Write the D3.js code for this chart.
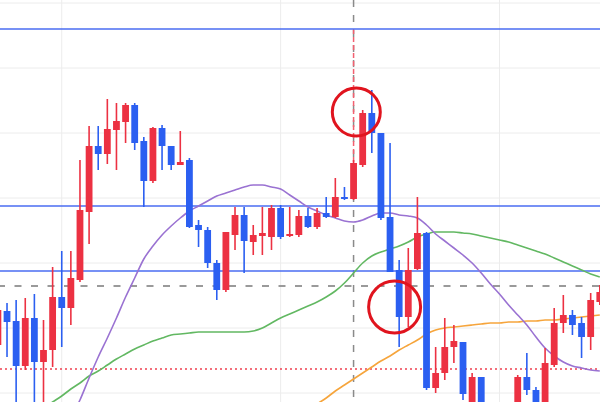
<!DOCTYPE html>
<html><head><meta charset="utf-8">
<script src="https://cdn.jsdelivr.net/npm/d3@7"></script>
<style>html,body{margin:0;padding:0;background:#fff;overflow:hidden}</style>
</head><body><svg id="c" width="600" height="402"></svg>
<script>
// candle index = category
const opens  = [150.55,150.89,150.79,150.34,150.82,150.38,150.50,151.03,150.92,151.20,151.88,152.54,152.46,152.70,152.78,152.95,152.59,152.19,152.72,152.54,152.35,152.40,151.75,151.70,151.37,151.10,151.65,151.85,151.58,151.64,151.63,151.92,151.64,151.65,151.84,151.73,151.87,151.83,152.03,152.01,152.35,152.87,152.67,151.83,151.30,150.83,151.31,151.67,150.12,150.27,150.53,150.58,149.94,150.23,149.92,149.80,149.70,149.90,150.23,150.10,149.90,150.35,150.77,150.85,150.77,150.63,150.98];
const closes = [150.90,150.78,150.34,150.82,150.38,150.50,151.03,150.92,151.22,151.90,152.54,152.46,152.71,152.79,152.95,152.57,152.19,152.72,152.54,152.35,152.38,151.73,151.70,151.37,151.10,151.68,151.85,151.59,151.65,151.67,151.92,151.63,151.66,151.84,151.73,151.87,151.83,152.03,152.01,152.37,152.87,152.67,151.82,151.28,150.83,151.30,151.67,150.12,150.27,150.53,150.59,150.06,150.23,149.95,149.80,149.70,149.88,150.23,150.10,149.98,150.37,150.77,150.85,150.75,150.63,151.00,151.08];
const highs  = [150.95,150.97,151.00,151.02,151.06,150.80,151.33,151.49,151.49,152.40,152.74,152.74,153.01,152.97,152.97,152.97,152.63,152.73,152.75,152.54,152.69,152.42,151.80,151.73,151.40,151.68,151.93,151.93,151.75,151.93,151.95,151.95,151.93,151.90,151.92,151.92,152.03,152.22,152.13,152.40,152.90,153.10,152.67,152.57,151.40,151.52,152.03,151.68,150.53,150.82,150.75,150.58,150.27,150.23,149.95,149.90,149.92,150.25,150.47,150.13,150.52,150.92,151.05,150.90,150.83,151.07,151.15];
const lows   = [150.40,150.43,149.95,150.30,149.95,149.95,150.33,150.53,150.75,151.18,151.56,152.30,152.36,152.30,152.57,152.50,151.93,152.17,152.30,152.30,152.35,151.72,151.53,151.32,151.00,151.08,151.50,151.27,151.45,151.45,151.50,151.61,151.63,151.63,151.72,151.71,151.82,151.82,152.00,152.00,152.33,152.47,151.80,151.28,150.53,150.73,151.30,150.10,150.07,150.20,150.37,150.00,149.95,149.92,149.70,149.60,149.65,149.85,150.05,149.90,149.88,150.33,150.67,150.65,150.42,150.50,150.95];

const N = null;
const maPurple = [N,N,N,N,N,N,N,149.60,149.82,150.00,150.22,150.43,150.62,150.82,151.03,151.22,151.41,151.54,151.65,151.74,151.82,151.89,151.94,151.99,152.04,152.07,152.10,152.13,152.15,152.15,152.13,152.11,152.05,151.99,151.93,151.89,151.85,151.82,151.79,151.78,151.80,151.84,151.87,151.87,151.85,151.84,151.82,151.75,151.66,151.59,151.52,151.45,151.37,151.27,151.16,151.06,150.95,150.85,150.75,150.63,150.52,150.44,150.38,150.34,150.32,150.30,150.29];
const maGreen  = [N,N,N,N,N,149.92,149.98,150.04,150.11,150.17,150.24,150.29,150.35,150.41,150.46,150.51,150.55,150.59,150.62,150.65,150.66,150.67,150.68,150.68,150.68,150.68,150.68,150.68,150.69,150.72,150.77,150.82,150.86,150.90,150.94,150.98,151.03,151.09,151.17,151.27,151.37,151.44,151.48,151.51,151.54,151.58,151.63,151.66,151.68,151.68,151.68,151.67,151.66,151.64,151.62,151.60,151.58,151.55,151.52,151.49,151.46,151.42,151.38,151.34,151.30,151.26,151.23];
const maOrange = [N,N,N,N,N,N,N,N,N,N,N,N,N,N,N,N,N,N,N,N,N,N,N,N,N,N,N,N,N,N,N,N,N,149.82,149.90,149.96,150.02,150.09,150.15,150.21,150.27,150.33,150.39,150.44,150.50,150.55,150.60,150.66,150.70,150.72,150.73,150.74,150.75,150.76,150.77,150.77,150.78,150.78,150.79,150.79,150.80,150.80,150.81,150.82,150.83,150.84,150.85];

const blueLevels = [153.71, 151.94, 151.29];
const grayDashLevel = [151.14];
const redDotLevel = [150.31];
const gridPrices = [153.97, 153.32, 152.67, 152.02, 151.37, 150.72, 150.07];
const gridIdx = [7, 31, 55];
const markerIdx = [39];
const circles = [{i: 39.3, p: 152.88, r: 24}, {i: 43.5, p: 150.93, r: 26}];

const W = 600, H = 402;
const svg = d3.select('#c');
const x = d3.scaleLinear().domain([0, 66]).range([-2.1, 599.8]);
const y = d3.scaleLinear().domain([149.98, 154.0]).range([H, 0]);
const idx = d3.range(opens.length);
const UP = '#ec3142', DN = '#2b5ff1';

// grid
svg.append('g').selectAll('line').data(gridPrices).join('line')
  .attr('x1', 0).attr('x2', W).attr('y1', d => y(d)).attr('y2', d => y(d))
  .attr('stroke', '#ececec').attr('stroke-width', 1);
svg.append('g').selectAll('line').data(gridIdx).join('line')
  .attr('x1', d => x(d)).attr('x2', d => x(d)).attr('y1', 0).attr('y2', H)
  .attr('stroke', '#ececec').attr('stroke-width', 1);

// levels
svg.append('g').selectAll('line').data(grayDashLevel).join('line')
  .attr('x1', 0).attr('x2', W).attr('y1', d => y(d)).attr('y2', d => y(d))
  .attr('stroke', '#9a9a9a').attr('stroke-width', 2).attr('stroke-dasharray', '7,9.5').attr('stroke-dashoffset', 2);
svg.append('g').selectAll('line').data(redDotLevel).join('line')
  .attr('x1', 0).attr('x2', W).attr('y1', d => y(d)).attr('y2', d => y(d))
  .attr('stroke', '#ee4050').attr('stroke-width', 1.5).attr('stroke-dasharray', '2,3');
svg.append('g').selectAll('line').data(markerIdx).join('line')
  .attr('x1', d => x(d)).attr('x2', d => x(d)).attr('y1', 0).attr('y2', H)
  .attr('stroke', '#8a8a8a').attr('stroke-width', 1.5).attr('stroke-dasharray', '7,8');
svg.append('g').selectAll('line').data(markerIdx).join('line')
  .attr('x1', d => x(d)).attr('x2', d => x(d)).attr('y1', y(blueLevels[0])).attr('y2', d => y(closes[d]))
  .attr('stroke', '#f26070').attr('stroke-width', 1.5).attr('stroke-dasharray', '5,3');
svg.append('g').selectAll('line').data(blueLevels).join('line')
  .attr('x1', 0).attr('x2', W).attr('y1', d => y(d)).attr('y2', d => y(d))
  .attr('stroke', '#4a6cf2').attr('stroke-width', 1.5);

// moving averages
const mk = arr => d3.line().defined(d => arr[d] != null).x(d => x(d)).y(d => y(arr[d])).curve(d3.curveMonotoneX);
[[maGreen, '#62b862'], [maOrange, '#f6a53c'], [maPurple, '#9a72d2']].forEach(([arr, col]) => {
  svg.append('path').attr('d', mk(arr)(idx)).attr('fill', 'none').attr('stroke', col).attr('stroke-width', 1.6);
});

// candles
const bw = 6.8;
const g = svg.append('g');
g.selectAll('line').data(idx).join('line')
  .attr('x1', d => x(d)).attr('x2', d => x(d))
  .attr('y1', d => y(highs[d])).attr('y2', d => y(lows[d]))
  .attr('stroke', d => closes[d] >= opens[d] ? UP : DN).attr('stroke-width', 1.6);
g.selectAll('rect').data(idx).join('rect')
  .attr('x', d => x(d) - bw / 2).attr('width', bw)
  .attr('y', d => y(Math.max(opens[d], closes[d])))
  .attr('height', d => Math.max(1.5, Math.abs(y(opens[d]) - y(closes[d]))))
  .attr('fill', d => closes[d] >= opens[d] ? UP : DN);

// annotation circles
svg.append('g').selectAll('circle').data(circles).join('circle')
  .attr('cx', d => x(d.i)).attr('cy', d => y(d.p)).attr('r', d => d.r)
  .attr('fill', 'none').attr('stroke', '#e0141e').attr('stroke-width', 3);
</script></body></html>
